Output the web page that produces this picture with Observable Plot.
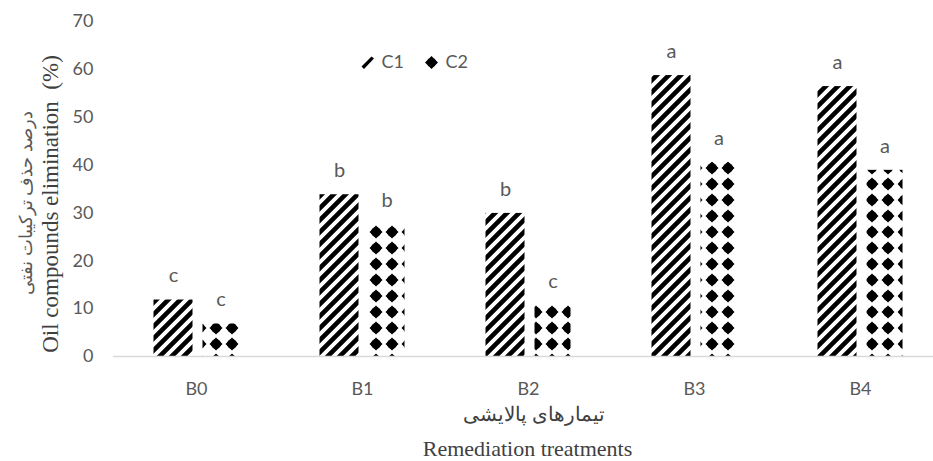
<!DOCTYPE html>
<html>
<head>
<meta charset="utf-8">
<script src="https://cdn.jsdelivr.net/npm/d3@7"></script>
<script src="https://cdn.jsdelivr.net/npm/@observablehq/plot@0.6"></script>
<style>
  html, body { margin: 0; padding: 0; background: #fff; }
</style>
</head>
<body>
<div id="chart"></div>
<script>
const treatments = ["B0", "B1", "B2", "B3", "B4"];
const c1Values = [11.8, 33.8, 29.9, 58.7, 56.4];
const c2Values = [6.8, 27.6, 10.7, 40.6, 38.9];
const c1Letters = ["c", "b", "b", "a", "a"];
const c2Letters = ["c", "b", "c", "a", "a"];
const yTicks = [0, 10, 20, 30, 40, 50, 60, 70];
const seriesNames = ["C1", "C2"];
const yLabelEn = "Oil compounds elimination  (%)";
const yLabelFa = "درصد حذف ترکیبات نفتی";
const xLabelFa = "تیمارهای پالایشی";
const xLabelEn = "Remediation treatments";

const rows = treatments.map((t, i) => ({
  t, c1: c1Values[i], c2: c2Values[i], l1: c1Letters[i], l2: c2Letters[i]
}));

const slashSymbol = {
  draw(ctx) {
    ctx.moveTo(-6, 4); ctx.lineTo(4, -6); ctx.lineTo(6.5, -4); ctx.lineTo(-3.5, 6.5); ctx.closePath();
  }
};
const dotSymbol = {
  draw(ctx) {
    ctx.moveTo(0, -6.5); ctx.lineTo(6.5, 0); ctx.lineTo(0, 6.5); ctx.lineTo(-6.5, 0); ctx.closePath();
    ctx.moveTo(4.8, 0); ctx.arc(0, 0, 4.8, 0, 2 * Math.PI);
  }
};

const gray = "#595959";
const serif = "'Liberation Serif', 'Times New Roman', serif";

const svg = Plot.plot({
  width: 933,
  height: 461,
  marginTop: 21,
  marginBottom: 105,
  marginLeft: 113,
  marginRight: 0,
  style: { fontFamily: "Lato, sans-serif", background: "#fff", overflow: "visible" },
  x: { domain: treatments, range: [112.5, 942.5], padding: 0, label: null },
  y: { domain: [0, 70], label: null },
  marks: [
    Plot.axisY({ ticks: yTicks, tickSize: 0, tickPadding: 20, fontSize: 18, fill: gray, label: null }),
    Plot.axisX({ tickSize: 0, tickPadding: 26, fontSize: 18, fill: gray, label: null }),
    Plot.barY(rows, { x: "t", y: "c1", fill: "url(#p-c1)", insetLeft: 40.5, insetRight: 86.5 }),
    Plot.barY(rows, { x: "t", y: "c2", fill: "url(#p-c2)", insetLeft: 89.5, insetRight: 40.5 }),
    Plot.ruleY([0], { stroke: "#d9d9d9", strokeWidth: 1.5 }),
    Plot.text(rows, { x: "t", y: "c1", text: "l1", dx: -23, dy: -24, fontSize: 20, fill: gray }),
    Plot.text(rows, { x: "t", y: "c2", text: "l2", dx: 24.5, dy: -24, fontSize: 20, fill: gray }),
    // legend
    Plot.dot([seriesNames[0]], { frameAnchor: "top-left", dx: 254, dy: 41, symbol: slashSymbol, r: 5, fill: "black", stroke: "none" }),
    Plot.text([seriesNames[0]], { frameAnchor: "top-left", dx: 268, dy: 41, text: d => d, textAnchor: "start", lineAnchor: "middle", fontSize: 18, fill: gray }),
    Plot.dot([seriesNames[1]], { frameAnchor: "top-left", dx: 318, dy: 41, symbol: dotSymbol, r: 5, fill: "black", stroke: "none" }),
    Plot.text([seriesNames[1]], { frameAnchor: "top-left", dx: 332, dy: 41, text: d => d, textAnchor: "start", lineAnchor: "middle", fontSize: 18, fill: gray }),
    // axis titles
    Plot.text([yLabelEn], { frameAnchor: "left", dx: -63, dy: 15, rotate: -90, textAnchor: "middle", lineAnchor: "middle", text: d => d, fontSize: 23, fontFamily: serif, fill: "#404040" }),
    Plot.text([yLabelFa], { frameAnchor: "left", dx: -87, dy: 14, rotate: -90, textAnchor: "middle", lineAnchor: "middle", text: d => d, fontSize: 18, fontFamily: serif, fill: gray }),
    Plot.text([xLabelFa], { frameAnchor: "bottom", dx: 10, dy: 58, textAnchor: "middle", lineAnchor: "middle", text: d => d, fontSize: 20, fontFamily: serif, fill: "#404040" }),
    Plot.text([xLabelEn], { frameAnchor: "bottom", dx: 4, dy: 92, textAnchor: "middle", lineAnchor: "middle", text: d => d, fontSize: 22, fontFamily: serif, fill: "#404040" })
  ]
});

svg.insertAdjacentHTML("afterbegin", `
<defs>
  <pattern id="p-c1" patternUnits="userSpaceOnUse" width="12" height="12">
    <path d="M-3,3 L3,-3 M0,12 L12,0 M9,15 L15,9" stroke="black" stroke-width="4.6" stroke-linecap="square"/>
  </pattern>
  <pattern id="p-c2" patternUnits="userSpaceOnUse" width="16" height="16">
    <path d="M8,1.5 L14.5,8 L8,14.5 L1.5,8 Z" fill="black"/>
    <circle cx="8" cy="8" r="4.8" fill="black"/>
  </pattern>
</defs>`);

document.getElementById("chart").appendChild(svg);
</script>
</body>
</html>
